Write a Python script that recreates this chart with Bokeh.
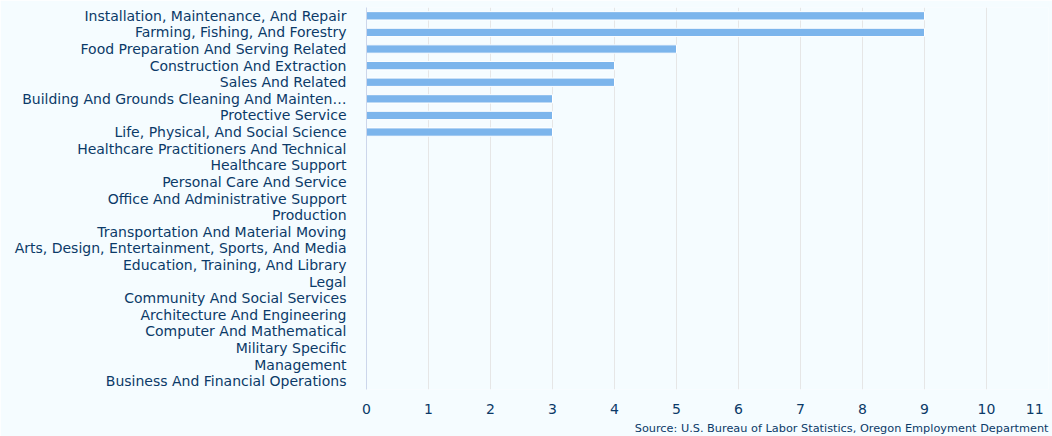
from bokeh.plotting import figure
from bokeh.models import Range1d, FactorRange, FixedTicker, Title
from bokeh.embed import file_html
from bokeh.resources import INLINE

categories = [
    "Installation, Maintenance, And Repair",
    "Farming, Fishing, And Forestry",
    "Food Preparation And Serving Related",
    "Construction And Extraction",
    "Sales And Related",
    "Building And Grounds Cleaning And Mainten\u2026",
    "Protective Service",
    "Life, Physical, And Social Science",
    "Healthcare Practitioners And Technical",
    "Healthcare Support",
    "Personal Care And Service",
    "Office And Administrative Support",
    "Production",
    "Transportation And Material Moving",
    "Arts, Design, Entertainment, Sports, And Media",
    "Education, Training, And Library",
    "Legal",
    "Community And Social Services",
    "Architecture And Engineering",
    "Computer And Mathematical",
    "Military Specific",
    "Management",
    "Business And Financial Operations",
]
values = [9, 9, 5, 4, 4, 3, 3, 3, 0, 0, 0, 0, 0, 0, 0, 0, 0, 0, 0, 0, 0, 0, 0]
x_ticks = list(range(0, 12))
source_text = "Source: U.S. Bureau of Labor Statistics, Oregon Employment Department"

BG = "#f5fcff"
TXT = "#0b3a68"
FONT = "DejaVu Sans"

p = figure(
    width=1052, height=436,
    y_range=FactorRange(factors=list(reversed(categories))),
    x_range=Range1d(0, 11),
    output_backend="svg", toolbar_location=None,
    min_border_left=366, min_border_right=4, min_border_top=7, min_border_bottom=47,
)
p.background_fill_color = BG
p.border_fill_color = BG
p.outline_line_color = None

p.hbar(y=categories, right=values, left=0, height=0.5,
       fill_color="#7cb5ec", line_color="#ffffff", line_width=1)

p.xgrid.grid_line_color = "#e6e6e6"
p.xgrid.ticker = FixedTicker(ticks=x_ticks)
p.ygrid.grid_line_color = None

xa = p.xaxis[0]
xa.ticker = FixedTicker(ticks=x_ticks)
xa.axis_line_color = None
xa.major_tick_line_color = None
xa.minor_tick_line_color = None
xa.major_tick_out = 0
xa.major_tick_in = 0
xa.major_label_standoff = 11
xa.major_label_text_font = FONT
xa.major_label_text_font_size = "14px"
xa.major_label_text_color = TXT
xa.major_label_overrides = {11: "11\u00a0\u00a0"}

ya = p.yaxis[0]
ya.axis_line_color = "#ccd6eb"
ya.major_tick_line_color = None
ya.minor_tick_line_color = None
ya.major_tick_out = 0
ya.major_tick_in = 0
ya.major_label_standoff = 20
ya.major_label_text_font = FONT
ya.major_label_text_font_size = "14px"
ya.major_label_text_color = TXT

src = Title(text=source_text, align="right", text_font=FONT,
            text_font_size="11.3px", text_font_style="normal",
            text_color=TXT, standoff=0, offset=0)
p.add_layout(src, "below")

open("out.html", "w").write(file_html(p, INLINE))
